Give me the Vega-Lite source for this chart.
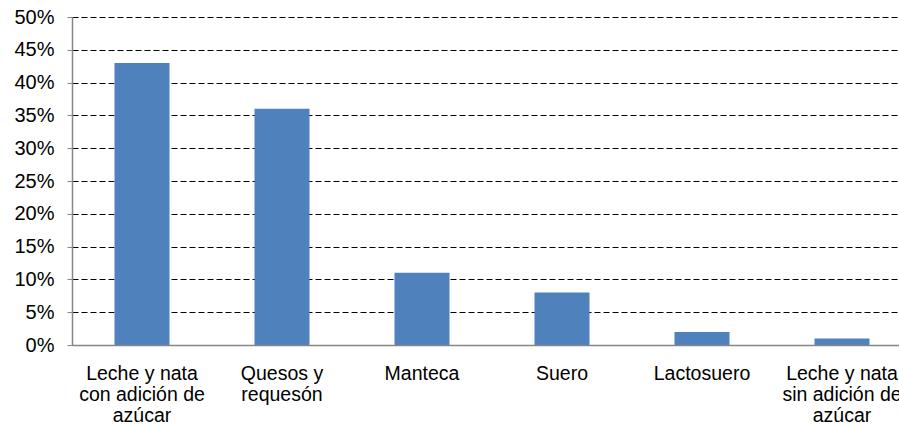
{
  "$schema": "https://vega.github.io/schema/vega-lite/v6.json",
  "autosize": {"type": "none"},
  "padding": {"left": 72, "top": 17, "right": 0, "bottom": 80},
  "width": 840,
  "height": 328,
  "config": {
    "view": {"stroke": null},
    "font": "Liberation Sans"
  },
  "data": {
    "values": [
      {"producto": "Leche y nata|con adición de|azúcar", "valor": 0.43},
      {"producto": "Quesos y|requesón", "valor": 0.36},
      {"producto": "Manteca", "valor": 0.11},
      {"producto": "Suero", "valor": 0.08},
      {"producto": "Lactosuero", "valor": 0.02},
      {"producto": "Leche y nata|sin adición de|azúcar", "valor": 0.01}
    ]
  },
  "mark": {"type": "bar", "color": "#4F81BD"},
  "encoding": {
    "x": {
      "field": "producto",
      "type": "nominal",
      "sort": null,
      "scale": {"paddingInner": 0.607, "paddingOuter": 0.3035},
      "axis": {
        "title": null,
        "labelAngle": 0,
        "labelExpr": "split(datum.label, '|')",
        "labelFont": "Liberation Sans",
        "labelFontSize": 19.5,
        "labelColor": "#000000",
        "labelLineHeight": 21,
        "labelPadding": 19,
        "labelBaseline": "top",
        "ticks": false,
        "domainColor": "#868686",
        "domainWidth": 1.5,
        "zindex": 1
      }
    },
    "y": {
      "field": "valor",
      "type": "quantitative",
      "scale": {"domain": [0, 0.5]},
      "axis": {
        "title": null,
        "format": ".0%",
        "values": [0, 0.05, 0.1, 0.15, 0.2, 0.25, 0.3, 0.35, 0.4, 0.45, 0.5],
        "labelFont": "Liberation Sans",
        "labelFontSize": 20,
        "labelColor": "#000000",
        "labelPadding": 13,
        "tickSize": 5,
        "tickColor": "#868686",
        "domainColor": "#868686",
        "domainWidth": 1.5,
        "gridColor": "#000000",
        "gridDash": [6, 3],
        "gridWidth": 1
      }
    }
  }
}
